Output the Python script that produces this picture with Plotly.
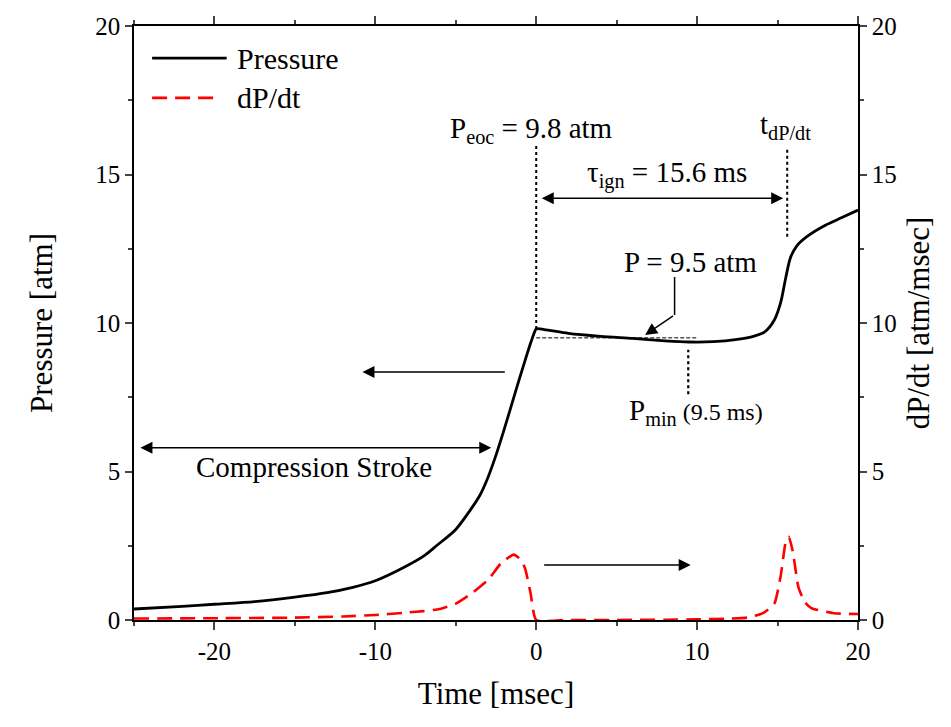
import plotly.graph_objects as go

# ---- data ----
t_pressure = [-25, -22, -20, -17.5, -15, -13, -11.4, -10, -8.3, -7, -6.2, -5, -4.1, -3.5, -3, -2.5,
              -2.0, -1.5, -1.0, -0.6, -0.3, -0.1, 0, 0.5, 2, 4, 6, 8, 9.5, 11, 12.5, 13.5, 14.2, 14.8,
              15.2, 15.5, 15.8, 16.2, 16.8, 18, 19, 20]
pressure = [0.37, 0.46, 0.53, 0.62, 0.77, 0.92, 1.1, 1.32, 1.75, 2.15, 2.5, 3.05, 3.7, 4.2, 4.8, 5.55,
            6.4, 7.3, 8.2, 8.9, 9.4, 9.7, 9.8, 9.78, 9.65, 9.55, 9.48, 9.4, 9.36, 9.37, 9.45, 9.55, 9.7, 10.1,
            10.7, 11.5, 12.2, 12.6, 12.9, 13.3, 13.55, 13.8]

t_dpdt = [-25, -20, -15, -12, -10, -8.3, -7, -6, -5, -4, -3, -2.2, -1.4, -1.0, -0.7, -0.35, 0,
          2, 5, 8, 10, 12, 13.1, 14.1, 14.8, 15.2, 15.5, 15.7, 15.95, 16.3, 16.7, 17.1, 18.5, 20]
dpdt = [0.05, 0.06, 0.08, 0.12, 0.17, 0.24, 0.3, 0.37, 0.55, 0.9, 1.35, 1.9, 2.2, 2.05, 1.75, 0.9, 0.0,
        0.0, 0.0, 0.01, 0.02, 0.05, 0.08, 0.23, 0.55, 1.5, 2.6, 2.8, 2.3, 1.1, 0.6, 0.4, 0.23, 0.2]

x_ticks = [-20, -10, 0, 10, 20]
x_tick_labels = ["-20", "-10", "0", "10", "20"]
y_ticks = [0, 5, 10, 15, 20]
y_tick_labels = ["0", "5", "10", "15", "20"]

FONT = "Liberation Serif"

fig = go.Figure()
fig.add_trace(go.Scatter(x=t_pressure, y=pressure, mode="lines", name="Pressure",
                         line=dict(color="black", width=2.8, shape="spline", smoothing=0.8),
                         showlegend=False))
fig.add_trace(go.Scatter(x=t_dpdt, y=dpdt, mode="lines", name="dP/dt", yaxis="y2",
                         line=dict(color="#ff0000", width=2.6, dash="15px,8px", shape="spline", smoothing=0.5),
                         showlegend=False))

# manual legend
fig.add_shape(type="line", xref="paper", yref="paper", x0=0.025, x1=0.128, y0=0.946, y1=0.946,
              line=dict(color="black", width=2.8))
fig.add_shape(type="line", xref="paper", yref="paper", x0=0.025, x1=0.112, y0=0.879, y1=0.879,
              line=dict(color="#ff0000", width=2.6, dash="15px,8px"))
fig.add_annotation(xref="paper", yref="paper", x=0.139, y=0.946, text="Pressure", showarrow=False,
                   xanchor="left", yanchor="middle", font=dict(family=FONT, size=30, color="black"))
fig.add_annotation(xref="paper", yref="paper", x=0.139, y=0.879, text="dP/dt", showarrow=False,
                   xanchor="left", yanchor="middle", font=dict(family=FONT, size=30, color="black"))

# dotted guide lines
fig.add_shape(type="line", x0=0, x1=0, y0=9.8, y1=16.0, line=dict(color="black", width=2, dash="dot"))
fig.add_shape(type="line", x0=15.6, x1=15.6, y0=12.9, y1=15.9, line=dict(color="black", width=2, dash="dot"))
fig.add_shape(type="line", x0=9.45, x1=9.45, y0=7.6, y1=9.1, line=dict(color="black", width=2.2, dash="dot"))
fig.add_shape(type="line", x0=0, x1=10, y0=9.5, y1=9.5, line=dict(color="black", width=1, dash="4px,2px"))
# bent leader for P = 9.5 atm
fig.add_shape(type="line", x0=8.6, x1=8.6, y0=11.55, y1=10.27, line=dict(color="black", width=1.5))

def arrow(x, y, ax, ay, both=False):
    fig.add_annotation(x=x, y=y, ax=ax, ay=ay, xref="x", yref="y", axref="x", ayref="y",
                       text="", showarrow=True, arrowhead=2, arrowsize=1.6, arrowwidth=1.5,
                       arrowcolor="black", standoff=0, startstandoff=0,
                       arrowside="end+start" if both else "end")

arrow(15.35, 14.2, 0.25, 14.2, both=True)
arrow(-24.6, 5.8, -2.7, 5.8, both=True)
arrow(-10.8, 8.35, -1.86, 8.35)
arrow(9.6, 1.85, 0.4, 1.85)
arrow(6.77, 9.6, 8.6, 10.27)

def label(x, y, text, size=29):
    fig.add_annotation(x=x, y=y, xref="x", yref="y", text=text, showarrow=False,
                       xanchor="center", yanchor="middle",
                       font=dict(family=FONT, size=size, color="black"))

label(-0.3, 16.5, "P<sub>eoc</sub> = 9.8 atm")
label(15.5, 16.65, "t<sub>dP/dt</sub>")
label(8.15, 15.0, "τ<sub>ign</sub> = 15.6 ms")
label(9.57, 12.07, "P = 9.5 atm")
label(9.9, 7.0, "P<sub>min</sub><span style='font-size:24px'> (9.5 ms)</span>")
label(-13.8, 5.15, "Compression Stroke")

tick_font = dict(family=FONT, size=25, color="black")
title_font = dict(family=FONT, size=31, color="black")

fig.update_layout(
    width=951, height=727,
    margin=dict(l=134, r=93, t=26, b=107),
    paper_bgcolor="white", plot_bgcolor="white",
    font=dict(family=FONT, color="black", size=25),
    xaxis=dict(range=[-25, 20], tickvals=x_ticks, ticktext=x_tick_labels, ticks="outside", ticklen=8,
               tickwidth=1.5, showline=True, linecolor="black", linewidth=1.5, mirror="ticks",
               showgrid=False, zeroline=False, tickfont=tick_font,
               minor=dict(dtick=5, tick0=0, ticks="outside", ticklen=4, tickwidth=1.5),
               title=dict(text="Time [msec]", font=title_font, standoff=19)),
    yaxis=dict(range=[0, 20], tickvals=y_ticks, ticktext=y_tick_labels, ticks="outside", ticklen=7,
               tickwidth=1.5, showline=True, linecolor="black", linewidth=1.5,
               showgrid=False, zeroline=False, tickfont=tick_font,
               minor=dict(dtick=2.5, tick0=0, ticks="outside", ticklen=4, tickwidth=1.5),
               title=dict(text="Pressure [atm]", font=title_font, standoff=33)),
    yaxis2=dict(range=[0, 20], tickvals=y_ticks, ticktext=y_tick_labels, ticks="outside", ticklen=7,
                tickwidth=1.5, showline=True, linecolor="black", linewidth=1.5,
                overlaying="y", side="right", showgrid=False, zeroline=False, tickfont=tick_font,
                minor=dict(dtick=2.5, tick0=0, ticks="outside", ticklen=4, tickwidth=1.5),
                title=dict(text="dP/dt [atm/msec]", font=title_font, standoff=12)),
)

fig.write_html("out.html")
